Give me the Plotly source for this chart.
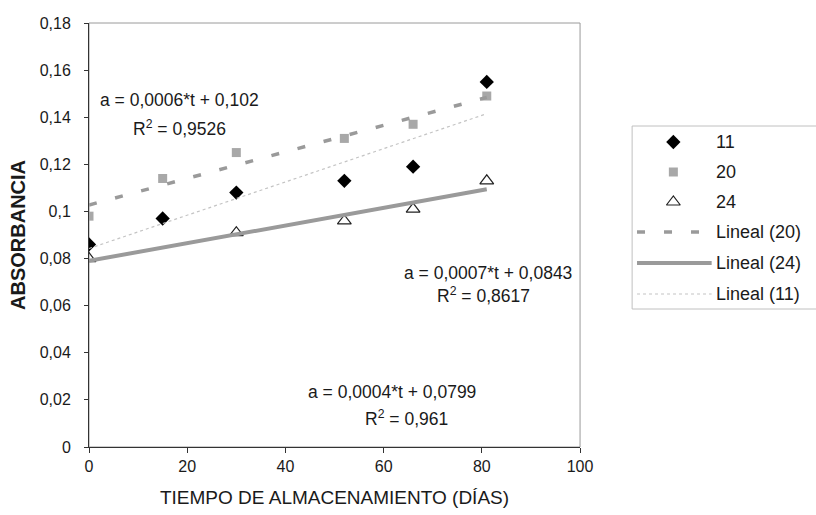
import numpy as np
import plotly.graph_objects as go

# ---- data ----
t11 = [0, 15, 30, 52, 66, 81]
a11 = [0.086, 0.097, 0.108, 0.113, 0.119, 0.155]
t20 = [0, 15, 30, 52, 66, 81]
a20 = [0.098, 0.114, 0.125, 0.131, 0.137, 0.149]
t24 = [0, 30, 52, 66, 81]
a24 = [0.080, 0.091, 0.096, 0.101, 0.113]

series_names = ["11", "20", "24"]
trend_names = ["Lineal (20)", "Lineal (24)", "Lineal (11)"]
eq_texts = [
    ("a = 0,0006*t + 0,102", "R<sup>2</sup> = 0,9526"),
    ("a = 0,0007*t + 0,0843", "R<sup>2</sup> = 0,8617"),
    ("a = 0,0004*t + 0,0799", "R<sup>2</sup> = 0,961"),
]

FONT = "Liberation Sans, Arial, sans-serif"
TXT = "#1a1a1a"

# figure geometry (pixels)
W, H = 816, 515
ML, MR, MT, MB = 89, 0, 23, 68
PLOT_RIGHT = 589          # right edge of the data area
DOM = (PLOT_RIGHT - ML) / (W - ML - MR)


def px_to_paper_x(px):
    return (px - ML) / (W - ML - MR)


def px_to_paper_y(py):
    return (H - MB - py) / (H - MB - MT)


STY = {
    "11": dict(symbol="diamond", size=11, color="#000000"),
    "20": dict(symbol="square", size=9, color="#a8a8a8"),
    "24": dict(symbol="triangle-up-open", size=12, color="#222222", line=dict(width=1.2)),
    "Lineal (20)": dict(color="#9a9a9a", width=3.5, dash="8px,19px"),
    "Lineal (24)": dict(color="#9a9a9a", width=4),
    "Lineal (11)": dict(color="#c4c4c4", width=1.2, dash="3px,3px"),
}


def trend(t, a):
    p = np.polyfit(t, a, 1)
    xs = [min(t), max(t)]
    return xs, [p[0] * x + p[1] for x in xs]


fig = go.Figure()
for name, t, a in [("11", t11, a11), ("20", t20, a20), ("24", t24, a24)]:
    fig.add_trace(go.Scatter(x=t, y=a, mode="markers", name=name, showlegend=False,
                             marker=STY[name]))
for name, t, a in [("Lineal (20)", t20, a20), ("Lineal (24)", t24, a24), ("Lineal (11)", t11, a11)]:
    x, y = trend(t, a)
    fig.add_trace(go.Scatter(x=x, y=y, mode="lines", name=name, showlegend=False,
                             line=STY[name]))

# ---- hand-built legend on an auxiliary pixel-coordinate subplot ----
leg_rows_y = [142, 172, 202, 232, 263, 294]
leg_names = series_names + trend_names
annotations = []
for nm, ry in zip(leg_names, leg_rows_y):
    if nm in series_names:
        fig.add_trace(go.Scatter(x=[684], y=[ry], mode="markers", marker=STY[nm],
                                 showlegend=False, xaxis="x2", yaxis="y2", hoverinfo="skip"))
    else:
        fig.add_trace(go.Scatter(x=[647, 723], y=[ry, ry], mode="lines", line=STY[nm],
                                 showlegend=False, xaxis="x2", yaxis="y2", hoverinfo="skip"))
    annotations.append(dict(x=725, y=ry, xref="x2", yref="y2", text=nm, showarrow=False,
                            xanchor="left", yanchor="middle",
                            font=dict(size=18, family=FONT, color=TXT)))

ann_pos = [((18.5, 0.1473), (18.5, 0.1354)),
           ((81.2, 0.0740), (80.4, 0.0645)),
           ((61.7, 0.0233), (64.6, 0.0123))]
for (l1, l2), (p1, p2) in zip(eq_texts, ann_pos):
    annotations.append(dict(x=p1[0], y=p1[1], text=l1, showarrow=False, xref="x", yref="y",
                            font=dict(size=17.5, color=TXT, family=FONT)))
    annotations.append(dict(x=p2[0], y=p2[1], text=l2, showarrow=False, xref="x", yref="y",
                            font=dict(size=17.5, color=TXT, family=FONT)))

fig.update_layout(
    width=W, height=H,
    margin=dict(l=ML, r=MR, t=MT, b=MB),
    paper_bgcolor="white", plot_bgcolor="white",
    separators=",.",
    font=dict(family=FONT, size=16, color=TXT),
    showlegend=False,
    annotations=annotations,
    shapes=[
        dict(type="rect", xref="x domain", yref="y domain", x0=0, x1=1, y0=0, y1=1,
             line=dict(color="#9a9a9a", width=1), layer="below"),
        dict(type="rect", xref="paper", yref="paper",
             x0=px_to_paper_x(642), x1=px_to_paper_x(W + 40),
             y0=px_to_paper_y(309), y1=px_to_paper_y(126),
             line=dict(color="#c0c0c0", width=1), layer="below"),
    ],
    xaxis=dict(domain=[0, DOM], range=[0, 100], dtick=20, showgrid=False, zeroline=False,
               showline=True, linecolor="#333333", linewidth=1,
               ticks="outside", ticklen=5, tickcolor="#333333",
               tickfont=dict(size=16, family=FONT, color=TXT),
               title=dict(text="TIEMPO DE ALMACENAMIENTO (DÍAS)", standoff=16,
                          font=dict(size=19, family=FONT, color=TXT))),
    yaxis=dict(range=[0, 0.18], dtick=0.02, showgrid=False, zeroline=False,
               showline=True, linecolor="#333333", linewidth=1,
               ticks="outside", ticklen=4, tickcolor="#333333", ticklabelstandoff=10,
               tickfont=dict(size=16, family=FONT, color=TXT),
               title=dict(text="<b>ABSORBANCIA</b>", standoff=8,
                          font=dict(size=20, family=FONT, color=TXT))),
    xaxis2=dict(domain=[DOM, 1], range=[PLOT_RIGHT, W], visible=False, anchor="y2",
                fixedrange=True),
    yaxis2=dict(domain=[0, 1], range=[H - MB, MT], visible=False, anchor="x2",
                fixedrange=True),
)

fig.write_html("out.html")
